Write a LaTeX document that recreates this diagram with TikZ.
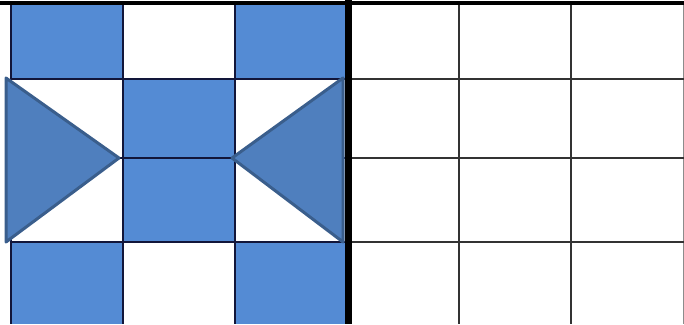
\documentclass[tikz,border=0pt]{standalone}
\usepackage{xcolor}
\usepackage{tikz}
\definecolor{cellblue}{RGB}{84,139,212}
\definecolor{triblue}{RGB}{79,127,190}
\definecolor{triedge}{RGB}{58,94,140}
\definecolor{gridnavy}{RGB}{18,22,58}

\begin{document}
\begin{tikzpicture}[x=1pt,y=-1pt,
  gridline/.style={gridnavy,line width=1.3pt},
  gridright/.style={black!80,line width=1.3pt},
  tri/.style={fill=triblue,draw=triedge,line width=3pt,line join=round}]
  \useasboundingbox (0,0) rectangle (684,324);
  % 6 columns of 112px starting at x=11; rows at y=5,79,158,242 (y grows downward)
  % blue cells: col/top/bottom
  \foreach \c/\ya/\yb in {0/5/79,2/5/79,1/79/158,1/158/242,0/242/324,2/242/324}{
    \fill[cellblue] (11+112*\c,\ya) rectangle (123+112*\c,\yb);}
  % grid lines, left half (navy) and right half (dark gray)
  \foreach \k in {11,123,235}{
    \draw[gridline] (\k,5)--(\k,324);}
  \foreach \k in {459,571}{
    \draw[gridright] (\k,5)--(\k,324);}
  \draw[black!45,line width=1pt] (683,5)--(683,324);
  \foreach \k in {79,158,242}{
    \draw[gridline] (11,\k)--(348,\k);
    \draw[gridright] (348,\k)--(684,\k);}
  % the two triangles pointing to the middle
  \draw[tri] (6,78) -- (119,158) -- (6,242) -- cycle;
  \draw[tri] (343,78) -- (232,158) -- (343,242) -- cycle;
  % heavy divider and top rule
  \draw[black,line width=7pt] (348,0)--(348,324);
  \draw[black,line width=4pt] (0,3)--(684,3);
\end{tikzpicture}
\end{document}
